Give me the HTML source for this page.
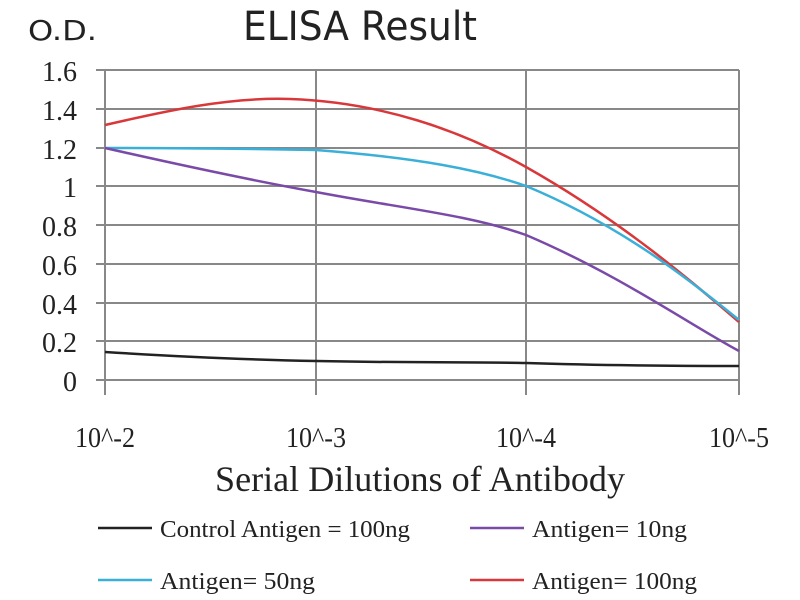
<!DOCTYPE html>
<html><head><style>body{margin:0;background:#fff;}svg{display:block}</style></head><body>
<svg width="800" height="600" xmlns="http://www.w3.org/2000/svg">
<rect width="800" height="600" fill="#fff"/>
<text x="28" y="40" font-family="DejaVu Sans, sans-serif" font-size="28" fill="#222" textLength="69" lengthAdjust="spacingAndGlyphs">O.D.</text>
<text x="243" y="40" font-family="DejaVu Sans, sans-serif" font-size="40" fill="#222" textLength="234" lengthAdjust="spacingAndGlyphs">ELISA Result</text>
<g stroke="#888" stroke-width="2">
<line x1="96" y1="70" x2="739" y2="70"/><line x1="96" y1="109" x2="739" y2="109"/>
<line x1="96" y1="148" x2="739" y2="148"/><line x1="96" y1="186" x2="739" y2="186"/>
<line x1="96" y1="225" x2="739" y2="225"/><line x1="96" y1="264" x2="739" y2="264"/>
<line x1="96" y1="303" x2="739" y2="303"/><line x1="96" y1="341" x2="739" y2="341"/>
<line x1="96" y1="380" x2="739" y2="380"/>
<line x1="105" y1="70" x2="105" y2="395"/><line x1="316" y1="70" x2="316" y2="395"/>
<line x1="526" y1="70" x2="526" y2="395"/><line x1="739" y1="70" x2="739" y2="395"/>
</g>
<g font-family="Liberation Serif, serif" font-size="28" fill="#222" text-anchor="end">
<text x="77" y="81">1.6</text><text x="77" y="120">1.4</text><text x="77" y="159">1.2</text>
<text x="77" y="197">1</text><text x="77" y="236">0.8</text><text x="77" y="275">0.6</text>
<text x="77" y="314">0.4</text><text x="77" y="352">0.2</text><text x="77" y="391">0</text>
</g>
<g font-family="Liberation Serif, serif" font-size="28" fill="#222" text-anchor="middle">
<text x="105" y="447" textLength="60" lengthAdjust="spacingAndGlyphs">10^-2</text><text x="316" y="447" textLength="60" lengthAdjust="spacingAndGlyphs">10^-3</text>
<text x="526" y="447" textLength="60" lengthAdjust="spacingAndGlyphs">10^-4</text><text x="739" y="447" textLength="60" lengthAdjust="spacingAndGlyphs">10^-5</text>
</g>
<text x="215" y="491" font-family="Liberation Serif, serif" font-size="36" fill="#222" textLength="410" lengthAdjust="spacingAndGlyphs">Serial Dilutions of Antibody</text>
<g fill="none" stroke-width="2.5">
<path d="M105,125 C170,110 230,97 290,99 C380,102 460,130 526,167 C620,220 690,280 739,322" stroke="#d9383a"/>
<path d="M105,148 C200,148 260,149 316,150 C420,158 480,170 526,186 C620,225 690,280 739,320" stroke="#3ab0d8"/>
<path d="M105,148 C180,165 250,180 316,192 C400,208 470,215 526,235 C620,275 690,325 739,351" stroke="#7a4aa8"/>
<path d="M105,352 C200,358 260,360 316,361 C420,363 480,362 526,363 C620,366 690,366 739,366" stroke="#222"/>
</g>
<g stroke-width="2.5">
<line x1="98" y1="528" x2="152" y2="528" stroke="#222"/>
<line x1="470" y1="528" x2="524" y2="528" stroke="#7a4aa8"/>
<line x1="98" y1="580" x2="152" y2="580" stroke="#3ab0d8"/>
<line x1="470" y1="580" x2="524" y2="580" stroke="#d9383a"/>
</g>
<g font-family="Liberation Serif, serif" font-size="24" fill="#222">
<text x="160" y="537" textLength="250" lengthAdjust="spacingAndGlyphs">Control Antigen = 100ng</text>
<text x="532" y="537" textLength="155" lengthAdjust="spacingAndGlyphs">Antigen= 10ng</text>
<text x="160" y="589" textLength="155" lengthAdjust="spacingAndGlyphs">Antigen= 50ng</text>
<text x="532" y="589" textLength="165" lengthAdjust="spacingAndGlyphs">Antigen= 100ng</text>
</g>
</svg>
</body></html>
